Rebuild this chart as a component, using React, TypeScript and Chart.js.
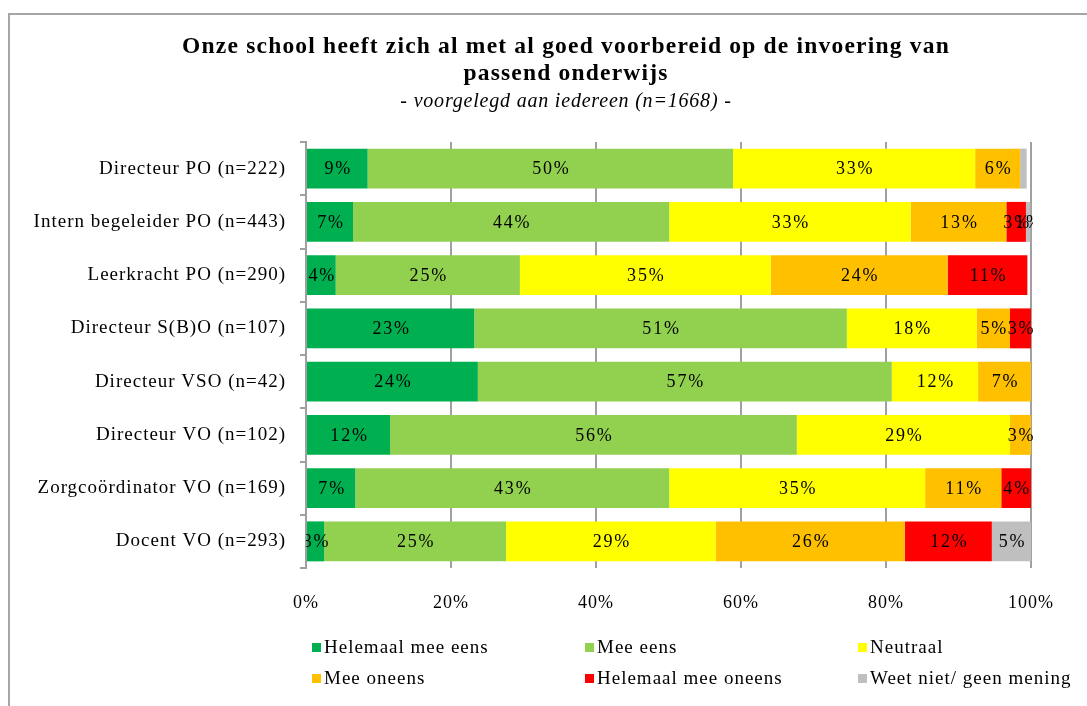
import React, { useEffect, useRef } from "react";
import { Chart, registerables } from "chart.js";

Chart.register(...registerables);

const categories = [
  "Directeur PO (n=222)",
  "Intern begeleider PO (n=443)",
  "Leerkracht PO (n=290)",
  "Directeur S(B)O (n=107)",
  "Directeur VSO (n=42)",
  "Directeur VO (n=102)",
  "Zorgcoördinator VO (n=169)",
  "Docent VO (n=293)",
];

const seriesNames = [
  "Helemaal mee eens",
  "Mee eens",
  "Neutraal",
  "Mee oneens",
  "Helemaal mee oneens",
  "Weet niet/ geen mening",
];

const seriesColors = ["#00B050", "#92D050", "#FFFF00", "#FFC000", "#FF0000", "#BFBFBF"];

const helemaalMeeEens = [8.5, 6.5, 4.1, 23.2, 23.7, 11.6, 6.8, 2.5];
const meeEens = [50.4, 43.6, 25.4, 51.4, 57.1, 56.1, 43.3, 25.1];
const neutraal = [33.4, 33.3, 34.6, 17.9, 11.9, 29.4, 35.3, 28.9];
const meeOneens = [6.2, 13.2, 24.4, 4.6, 7.3, 2.9, 10.5, 26.1];
const helemaalMeeOneens = [0, 2.7, 11.0, 2.9, 0, 0, 4.1, 12.0];
const weetNiet = [0.9, 0.6, 0, 0, 0, 0, 0, 5.4];

const seriesValues = [helemaalMeeEens, meeEens, neutraal, meeOneens, helemaalMeeOneens, weetNiet];

// [series index, category index] of segments whose label is not shown
const hiddenLabels = [[5, 0]];

const xTicks = [0, 20, 40, 60, 80, 100];

const titleLines = [
  "Onze school heeft zich al met al goed voorbereid op de invoering van",
  "passend onderwijs",
];
const subtitle = "- voorgelegd aan iedereen (n=1668) -";

const FONT = '"Liberation Serif", "Times New Roman", serif';
const GRID = "#a0a0a0";

const spacingPlugin = {
  id: "spacing",
  beforeDraw(chart: any) {
    (chart.ctx as any).letterSpacing = "1px";
  },
  afterDraw(chart: any) {
    (chart.ctx as any).letterSpacing = "0px";
  },
};

const titlePlugin = {
  id: "customTitle",
  afterDraw(chart: any) {
    const ctx = chart.ctx as CanvasRenderingContext2D;
    ctx.save();
    ctx.fillStyle = "#000";
    ctx.textAlign = "center";
    ctx.textBaseline = "middle";
    const cx = 556;
    ctx.font = `bold 23.5px ${FONT}`;
    (ctx as any).letterSpacing = "1.2px";
    ctx.fillText(titleLines[0], cx, 31.5);
    ctx.fillText(titleLines[1], cx, 58.5);
    ctx.font = `italic 20px ${FONT}`;
    (ctx as any).letterSpacing = "0.8px";
    ctx.fillText(subtitle, cx, 86.5);
    ctx.restore();
  },
};

const labelPlugin = {
  id: "segLabels",
  afterDatasetsDraw(chart: any) {
    const ctx = chart.ctx as CanvasRenderingContext2D;
    const area = chart.chartArea;
    ctx.save();
    ctx.beginPath();
    ctx.rect(area.left, area.top - 5, area.right - area.left + 2, area.bottom - area.top + 10);
    ctx.clip();
    ctx.font = `18px ${FONT}`;
    (ctx as any).letterSpacing = "1.8px";
    ctx.fillStyle = "#000";
    ctx.textAlign = "center";
    ctx.textBaseline = "middle";
    chart.data.datasets.forEach((ds: any, di: number) => {
      const meta = chart.getDatasetMeta(di);
      meta.data.forEach((bar: any, i: number) => {
        const v = ds.data[i] as number;
        if (!v || v < 0.5) return;
        if (hiddenLabels.some(([a, b]) => a === di && b === i)) return;
        const p = bar.getProps(["x", "y", "base"], true);
        ctx.fillText(Math.round(v) + "%", (p.x + p.base) / 2 + 1, p.y + 1);
      });
    });
    ctx.restore();
  },
};

const legendPlugin = {
  id: "gridLegend",
  afterDraw(chart: any) {
    const ctx = chart.ctx as CanvasRenderingContext2D;
    const colX = [302, 575, 848];
    const rowY = [633, 664];
    ctx.save();
    ctx.font = `19px ${FONT}`;
    (ctx as any).letterSpacing = "1px";
    ctx.textBaseline = "middle";
    ctx.textAlign = "left";
    chart.data.datasets.forEach((ds: any, i: number) => {
      const x = colX[i % 3];
      const y = rowY[Math.floor(i / 3)];
      ctx.fillStyle = ds.backgroundColor;
      ctx.fillRect(x, y - 5, 9, 9);
      ctx.fillStyle = "#000";
      ctx.fillText(ds.label, x + 12, y);
    });
    ctx.restore();
  },
};

export default function App() {
  const ref = useRef<HTMLCanvasElement>(null);

  useEffect(() => {
    if (!ref.current) return;
    const chart = new Chart(ref.current, {
      type: "bar",
      data: {
        labels: categories,
        datasets: seriesValues.map((vals, i) => ({
          label: seriesNames[i],
          data: vals,
          backgroundColor: seriesColors[i],
          borderWidth: 0,
          barPercentage: 0.75,
          categoryPercentage: 1,
        })),
      },
      options: {
        indexAxis: "y",
        responsive: false,
        animation: false,
        devicePixelRatio: 1,
        layout: { padding: { top: 127, right: 56, bottom: 0, left: 0 } },
        plugins: {
          legend: { display: false },
          title: { display: false },
          tooltip: { enabled: false },
        },
        scales: {
          x: {
            stacked: true,
            min: 0,
            max: 100,
            afterFit: (s: any) => {
              s.height = 138;
            },
            afterBuildTicks: (s: any) => {
              s.ticks = xTicks.map((v) => ({ value: v }));
            },
            ticks: {
              padding: 24,
              color: "#000",
              font: { family: FONT, size: 18 },
              callback: (v: any) => v + "%",
            },
            grid: { color: GRID, lineWidth: 2, drawTicks: false },
            border: { display: false },
          },
          y: {
            stacked: true,
            afterFit: (s: any) => {
              s.width = 296;
            },
            ticks: {
              padding: 14,
              color: "#000",
              font: { family: FONT, size: 19 },
            },
            grid: {
              display: true,
              drawOnChartArea: false,
              drawTicks: true,
              tickLength: 6,
              color: GRID,
              lineWidth: 2,
              offset: true,
            },
            border: { display: true, color: GRID, width: 2 },
          },
        },
      },
      plugins: [spacingPlugin, labelPlugin, titlePlugin, legendPlugin],
    } as any);
    return () => chart.destroy();
  }, []);

  return (
    <div
      style={{
        position: "fixed",
        left: 8,
        top: 13,
        width: 1077,
        height: 691,
        borderTop: "2px solid #a6a6a6",
        borderLeft: "2px solid #a6a6a6",
        background: "#fff",
      }}
    >
      <canvas ref={ref} width={1077} height={691} style={{ display: "block", width: 1077, height: 691 }} />
    </div>
  );
}
